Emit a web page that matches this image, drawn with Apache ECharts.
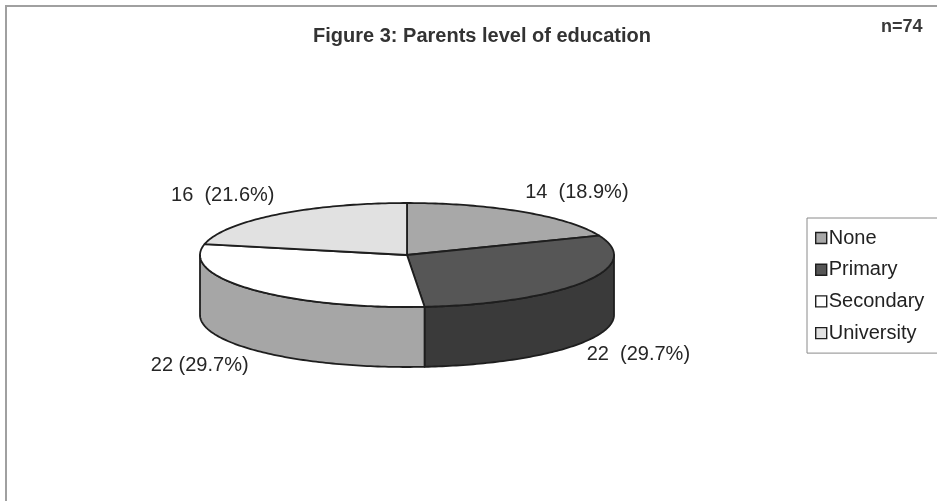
<!DOCTYPE html>
<html>
<head>
<meta charset="utf-8">
<script src="https://cdn.jsdelivr.net/npm/echarts@6/dist/echarts.min.js"></script>
<style>
html,body{margin:0;padding:0;background:#fff;}
#chart{width:937px;height:501px;}
</style>
</head>
<body>
<div id="chart"></div>
<script>
// ---- data ----
const categories = ['None', 'Primary', 'Secondary', 'University'];
const values = [14, 22, 22, 16];
const labelTexts = ['14  (18.9%)', '22  (29.7%)', '22 (29.7%)', '16  (21.6%)'];
const titleText = 'Figure 3: Parents level of education';
const noteText = 'n=74';

// ---- styles ----
const topColors = ['#a8a8a8', '#565656', '#ffffff', '#e1e1e1'];
const sideColors = ['#8a8a8a', '#3a3a3a', '#a6a6a6', '#c4c4c4'];
const FONT = 'Liberation Sans, Arial, sans-serif';

// ---- layout of the pseudo-3D pie ----
const CX = 407, CY = 255, RX = 207, RY = 52, DEPTH = 60;
const LRX = 211, LRY = 76;

const total = values.reduce((a, b) => a + b, 0);
const starts = [];
let acc = 0;
values.forEach(v => { starts.push(acc / total * Math.PI * 2); acc += v; });

function pt(theta, dy) {
  return [CX + RX * Math.sin(theta), CY - RY * Math.cos(theta) + dy];
}
function arcPts(a0, a1, dy) {
  const n = Math.max(2, Math.ceil(Math.abs(a1 - a0) / (Math.PI / 180)));
  const out = [];
  for (let k = 0; k <= n; k++) out.push(pt(a0 + (a1 - a0) * k / n, dy));
  return out;
}

function makeRender(i) {
  return function (params, api) {
    const a0 = starts[i];
    const a1 = a0 + api.value(0) / total * Math.PI * 2;
    const children = [];
    const s0 = Math.max(a0, Math.PI / 2), s1 = Math.min(a1, Math.PI * 1.5);
    if (s1 > s0) {
      children.push({
        type: 'polygon',
        shape: { points: arcPts(s0, s1, 0).concat(arcPts(s1, s0, DEPTH)) },
        style: { fill: sideColors[i], stroke: '#1e1e1e', lineWidth: 1.8, lineJoin: 'round' }
      });
    }
    children.push({
      type: 'polygon',
      shape: { points: [[CX, CY]].concat(arcPts(a0, a1, 0)) },
      style: { fill: topColors[i], stroke: '#1e1e1e', lineWidth: 1.8, lineJoin: 'round' }
    });
    const mid = (a0 + a1) / 2;
    const sx = Math.sin(mid), cy = Math.cos(mid);
    children.push({
      type: 'text',
      x: CX + LRX * sx,
      y: CY - LRY * cy + (cy < 0 ? DEPTH : 0),
      style: {
        text: labelTexts[i], fontSize: 20, fontFamily: FONT, fill: '#262626',
        align: sx >= 0 ? 'left' : 'right', verticalAlign: 'middle'
      }
    });
    return { type: 'group', children: children };
  };
}

const chart = echarts.init(document.getElementById('chart'), null, { renderer: 'canvas' });
chart.setOption({
  backgroundColor: '#ffffff',
  animation: false,
  title: [
    { text: titleText, left: 477, top: 21, textAlign: 'center',
      textStyle: { fontSize: 20, fontWeight: 'bold', fontFamily: FONT, color: '#333333' } },
    { text: noteText, left: 876, top: 13,
      textStyle: { fontSize: 18, fontWeight: 'bold', fontFamily: FONT, color: '#3a3a3a' } }
  ],
  graphic: [{
    type: 'rect', left: 5, top: 5, silent: true, z: -10,
    shape: { width: 960, height: 520 },
    style: { fill: 'transparent', stroke: '#a0a0a0', lineWidth: 2 }
  }],
  legend: {
    orient: 'vertical', left: 807, top: 218,
    data: categories.map((c, i) => ({ name: c, icon: 'rect',
      itemStyle: { color: topColors[i], borderColor: '#1e1e1e', borderWidth: 1.4 } })),
    itemWidth: 11, itemHeight: 11, itemGap: 11.7,
    padding: [10, 22, 10, 8],
    borderColor: '#8a8a8a', borderWidth: 1,
    textStyle: { fontSize: 20, fontFamily: FONT, color: '#222222', padding: [0, 0, 0, -3] }
  },
  series: categories.map((name, i) => ({
    type: 'custom', name: name, coordinateSystem: 'none',
    itemStyle: { color: topColors[i] },
    data: [[values[i]]],
    renderItem: makeRender(i)
  }))
});
</script>
</body>
</html>
